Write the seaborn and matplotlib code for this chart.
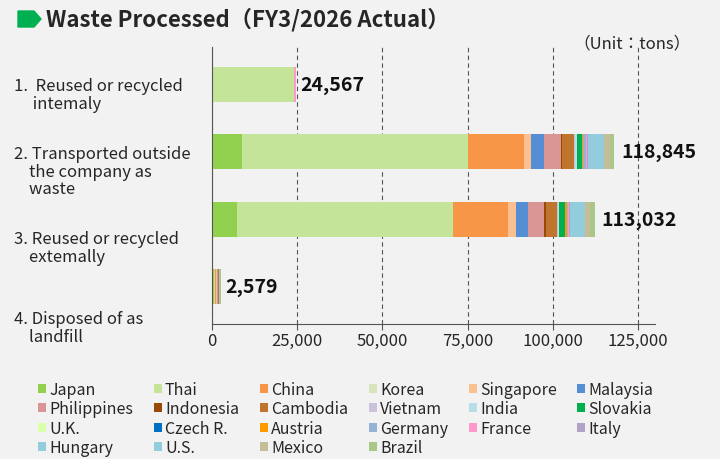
import matplotlib
matplotlib.use("Agg")
import matplotlib.pyplot as plt
import seaborn as sns
import numpy as np
from matplotlib.patches import Polygon, Patch

sns.set_style("white")
plt.rcParams['font.family'] = ['Noto Sans CJK JP', 'DejaVu Sans']

categories = ["1.  Reused or recycled\n     intemaly",
              "2. Transported outside\n    the company as\n    waste",
              "3. Reused or recycled\n    extemally",
              "4. Disposed of as\n    landfill"]
totals = [24567, 118845, 113032, 2579]
countries = ["Japan", "Thai", "China", "Korea", "Singapore", "Malaysia",
             "Philippines", "Indonesia", "Cambodia", "Vietnam", "India", "Slovakia",
             "U.K.", "Czech R.", "Austria", "Germany", "France", "Italy",
             "Hungary", "U.S.", "Mexico", "Brazil"]
colors = ["#92D050", "#C4E49A", "#F79646", "#D7E4BD", "#FAC090", "#558ED5",
          "#D99694", "#984807", "#C0752F", "#CCC1DA", "#B7DEE8", "#00B050",
          "#D9FFAA", "#0070C0", "#FF9900", "#95B3D7", "#FF99CC", "#B3A2C7",
          "#93CDDD", "#92CDDC", "#C4BD97", "#A9C888"]
vals_internal = [0, 24067, 0, 0, 0, 0, 0, 0, 0, 0, 0, 0, 0, 0, 0, 0, 500, 0, 0, 0, 0, 0]
vals_transport = [8800, 66200, 16600, 0, 2000, 3800, 4900, 400, 3500, 400, 400, 1500,
                  0, 0, 400, 800, 300, 300, 4800, 0, 1600, 1145]
vals_external = [7300, 63400, 16300, 0, 2100, 3500, 4700, 600, 3400, 300, 200, 1800,
                 0, 0, 500, 400, 400, 300, 4200, 0, 1500, 1632]
vals_landfill = [500, 500, 300, 0, 100, 200, 200, 0, 200, 0, 0, 100,
                 0, 0, 0, 100, 0, 0, 179, 0, 100, 99]
rows = [vals_internal, vals_transport, vals_external, vals_landfill]

fig = plt.figure(figsize=(7.2, 4.6), dpi=100, facecolor="#F2F2F2")
ax = fig.add_axes([212/720, 1-325/460, (655-212)/720, (325-48)/460])
ax.set_facecolor("#F2F2F2")

ypos = np.arange(len(categories))
handles = []
for ci, (name, col) in enumerate(zip(countries, colors)):
    v = np.array([r[ci] for r in rows])
    left = np.array([sum(r[:ci]) for r in rows])
    h = ax.barh(ypos, v, left=left, height=0.52, color=col, label=name, linewidth=0)
    handles.append(h)
for y, t in zip(ypos, totals):
    ax.text(t + 1200, y, f"{t:,}", va="center", ha="left", fontsize=14, fontweight="bold", color="#111")

ax.set_ylim(3.55, -0.55)
ax.set_xlim(0, 130000)
ax.set_xticks(np.arange(0, 125001, 25000))
ax.set_xticklabels([f"{x:,}" for x in range(0, 125001, 25000)], fontsize=12)
ax.set_yticks([])
ax.xaxis.grid(True, linestyle=(0, (4, 3)), color="#555", linewidth=0.8)
for s in ["top", "right"]:
    ax.spines[s].set_visible(False)
ax.spines["left"].set_color("#555")
ax.spines["bottom"].set_color("#555")
ax.tick_params(axis="x", length=4, color="#555", direction="out", bottom=True, pad=2)

ylab = [78, 146, 231, 311]
for c, yy in zip(categories, ylab):
    fig.text(14/720, 1-yy/460, c, fontsize=12, va="top", ha="left", linespacing=1.05)

fig.text(632/720, 1-44/460, "（Unit：tons）", fontsize=12, ha="center", va="center")
fig.text(46/720, 1-20/460, "Waste Processed（FY3/2026 Actual）", fontsize=16, fontweight="bold", va="center")
fig.patches.append(Polygon([[18/720, 1-12/460], [34/720, 1-12/460], [41/720, 1-20/460],
                            [34/720, 1-28/460], [18/720, 1-28/460]], closed=True,
                           transform=fig.transFigure, color="#00B050"))

ncol = 6
nrow = int(np.ceil(len(countries)/ncol))
order = [r*ncol + c for c in range(ncol) for r in range(nrow)]
hh, ll = [], []
for i in order:
    if i < len(countries):
        hh.append(handles[i]); ll.append(countries[i])
    else:
        hh.append(Patch(alpha=0)); ll.append("")
fig.legend(hh, ll, ncol=ncol, loc="upper left", bbox_to_anchor=(30/720, 1-374/460),
           frameon=False, fontsize=11.5, handlelength=0.5, handleheight=0.5,
           handletextpad=0.2, columnspacing=1.3, labelspacing=0.15, borderpad=0)
fig.savefig("out.png", dpi=100, facecolor=fig.get_facecolor())
